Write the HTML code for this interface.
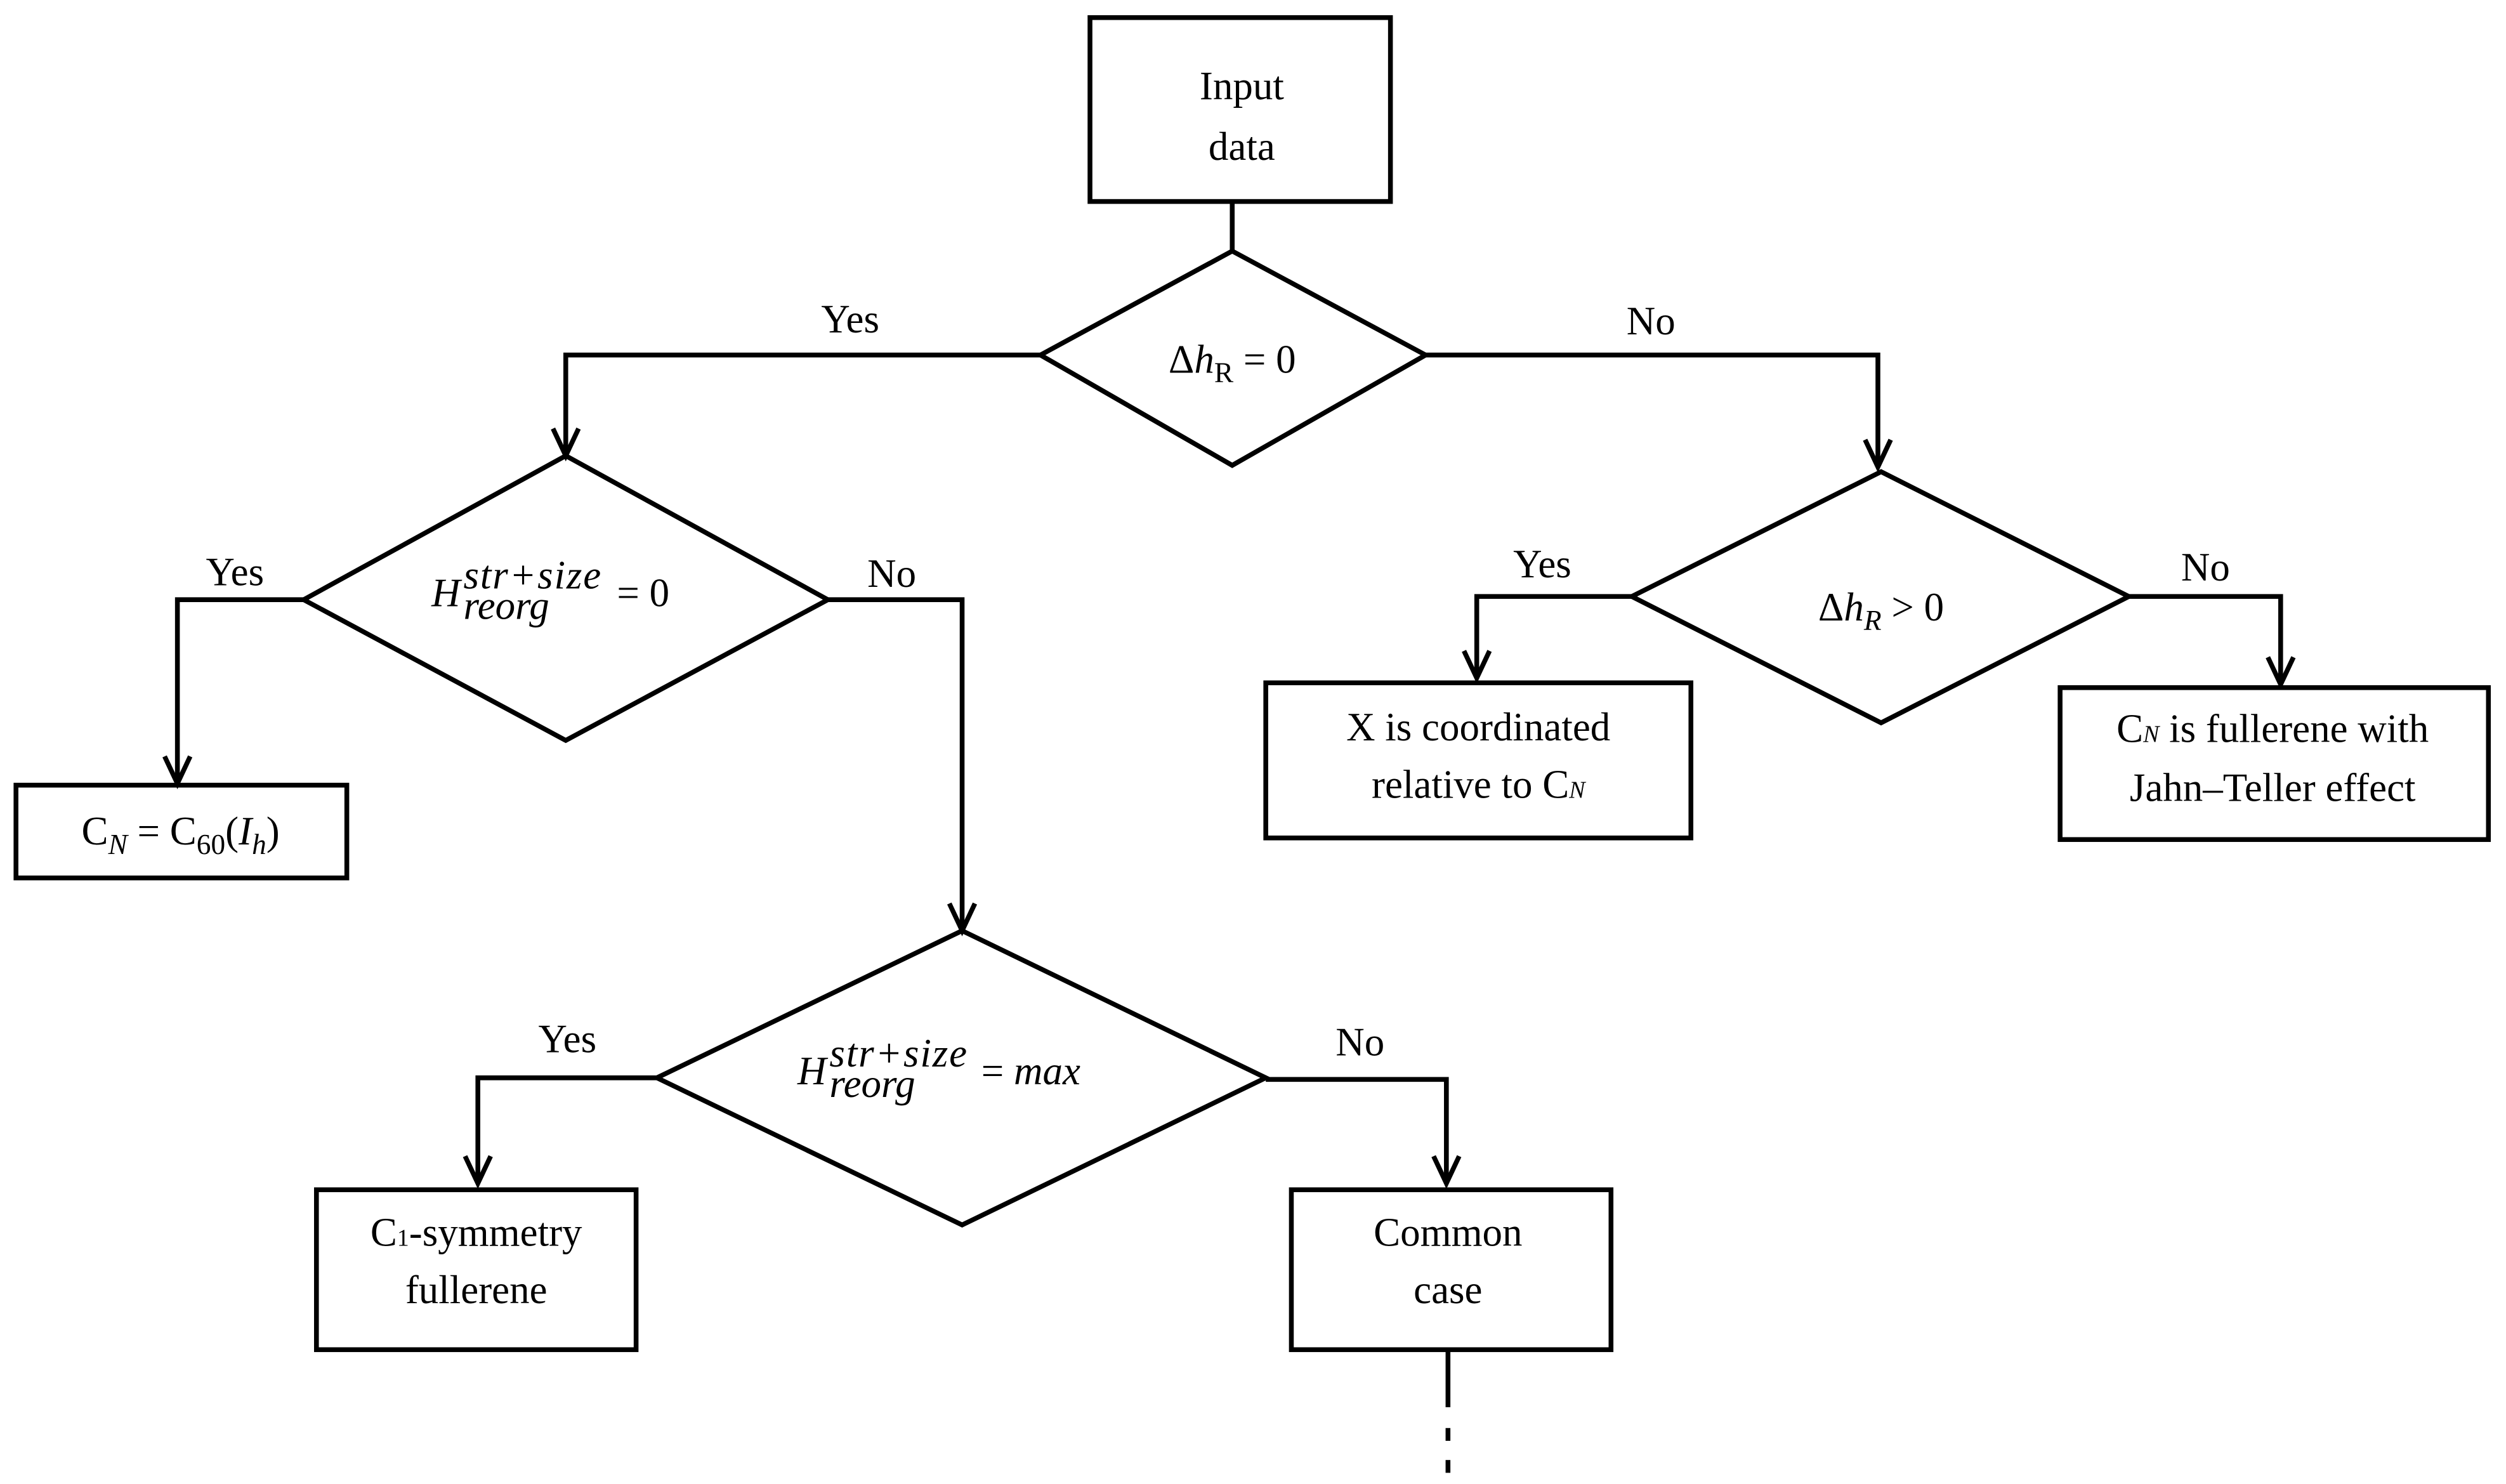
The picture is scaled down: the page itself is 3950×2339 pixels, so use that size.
<!DOCTYPE html>
<html><head><meta charset="utf-8"><style>
html,body{margin:0;padding:0;background:#fff;}
svg{display:block;}
text{font-family:"Liberation Serif",serif;font-size:25px;fill:#000;}
.it{font-style:italic;}
</style></head><body>
<svg width="3950" height="2339" viewBox="0 0 1568 928" preserveAspectRatio="none" xmlns="http://www.w3.org/2000/svg">
<g fill="none" stroke="#000" stroke-width="3" stroke-linejoin="miter">
<rect x="682" y="11" width="188" height="115"/>
<line x1="771" y1="126" x2="771" y2="157"/>
<polygon points="771,157 892,222 771,291 651,222"/>
<polyline points="651,222 354,222 354,283"/>
<polyline points="892,222 1175,222 1175,290"/>
<polygon points="354,285 518,375 354,463 190,375"/>
<polyline points="190,375 111,375 111,488"/>
<rect x="10" y="491" width="207" height="58"/>
<polyline points="518,375 602,375 602,580"/>
<polygon points="602,582 792,674 602,766 411,674"/>
<polyline points="411,674 299,674 299,738"/>
<rect x="198" y="744" width="200" height="100"/>
<polyline points="792,675 905,675 905,738"/>
<rect x="808" y="744" width="200" height="100"/>
<line x1="906" y1="844" x2="906" y2="880"/>
<line x1="906" y1="893" x2="906" y2="901"/>
<line x1="906" y1="913" x2="906" y2="921"/>
<polygon points="1177,295 1332,373 1177,452 1021,373"/>
<polyline points="1021,373 924,373 924,422"/>
<rect x="792" y="427" width="266" height="97"/>
<polyline points="1332,373 1427,373 1427,426"/>
<rect x="1289" y="430" width="268" height="95"/>
</g>
<g fill="none" stroke="#000" stroke-width="3">
<polyline points="346,268 354,285 362,268"/>
<polyline points="1167,275 1175,292 1183,275"/>
<polyline points="103,473 111,490 119,473"/>
<polyline points="594,565 602,582 610,565"/>
<polyline points="291,723 299,740 307,723"/>
<polyline points="897,723 905,740 913,723"/>
<polyline points="916,407 924,424 932,407"/>
<polyline points="1419,411 1427,428 1435,411"/>
</g>
<g text-anchor="middle">
<text x="777" y="62">Input</text>
<text x="777" y="100">data</text>
<text x="532" y="208">Yes</text>
<text x="1033" y="209">No</text>
<text x="771" y="233">Δ<tspan class="it">h</tspan><tspan font-size="18" dy="6">R</tspan><tspan dy="-6"> = 0</tspan></text>
<text x="147" y="366">Yes</text>
<text x="558" y="367">No</text>
<text x="965" y="361">Yes</text>
<text x="1380" y="363">No</text>
<text x="1177" y="388">Δ<tspan class="it">h</tspan><tspan class="it" font-size="18" dy="6">R</tspan><tspan dy="-6"> &gt; 0</tspan></text>
<text x="113" y="528">C<tspan class="it" font-size="18" dy="6">N</tspan><tspan dy="-6"> = C</tspan><tspan font-size="18" dy="6">60</tspan><tspan dy="-6">(</tspan><tspan class="it">I</tspan><tspan class="it" font-size="18" dy="6">h</tspan><tspan dy="-6">)</tspan></text>
<text x="925" y="463">X is coordinated</text>
<text x="925" y="499">relative to C<tspan class="it" font-size="15">N</tspan></text>
<text x="1422" y="464">C<tspan class="it" font-size="15">N</tspan> is fullerene with</text>
<text x="1422" y="501">Jahn–Teller effect</text>
<text x="355" y="658">Yes</text>
<text x="851" y="660">No</text>
<text x="298" y="779">C<tspan font-size="15">1</tspan>-symmetry</text>
<text x="298" y="815">fullerene</text>
<text x="906" y="779">Common</text>
<text x="906" y="815">case</text>
</g>
<text class="it" x="270" y="379">H</text>
<text class="it" x="290" y="368" font-size="19" textLength="86">str+size</text>
<text class="it" x="290" y="387" font-size="19">reorg</text>
<text x="386" y="379">= 0</text>
<text class="it" x="499" y="678">H</text>
<text class="it" x="519" y="667" font-size="19" textLength="86">str+size</text>
<text class="it" x="519" y="686" font-size="19">reorg</text>
<text x="614" y="678">= <tspan class="it">max</tspan></text>
</svg>
</body></html>
